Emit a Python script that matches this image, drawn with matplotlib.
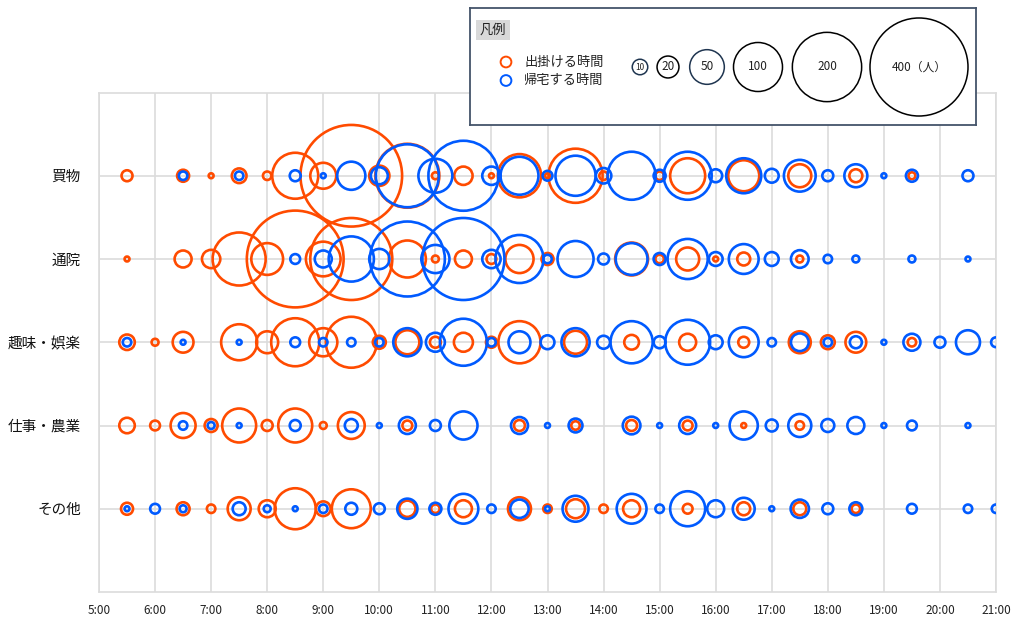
import matplotlib.pyplot as plt
import numpy as np

plt.rcParams['font.family'] = ['Noto Sans CJK JP', 'DejaVu Sans']

# time slots every 30 minutes
slots = ['5:30', '6:00', '6:30', '7:00', '7:30', '8:00', '8:30', '9:00',
         '9:30', '10:00', '10:30', '11:00', '11:30', '12:00', '12:30', '13:00',
         '13:30', '14:00', '14:30', '15:00', '15:30', '16:00', '16:30', '17:00',
         '17:30', '18:00', '18:30', '19:00', '19:30', '20:00', '20:30', '21:00']

categories = ['買物', '通院', '趣味・娯楽', '仕事・農業', 'その他']

# people leaving home (出掛ける時間), per slot
shopping_out = [5, 0, 6, 1, 9, 3, 88, 28, 430, 17, 170, 2, 14, 1, 78, 1,
                122, 3, 0, 3, 51, 0, 40, 0, 22, 0, 7, 0, 2, 0, 0, 0]
hospital_out = [1, 0, 12, 14, 117, 42, 390, 50, 280, 0, 57, 2, 12, 4, 33, 6,
                0, 0, 45, 3, 22, 1, 7, 0, 2, 0, 0, 0, 0, 0, 0, 0]
hobby_out = [10, 2, 18, 0, 54, 20, 96, 33, 108, 7, 24, 5, 15, 5, 74, 0,
             22, 0, 9, 0, 12, 0, 5, 0, 20, 8, 18, 0, 3, 0, 0, 0]
work_out = [10, 4, 26, 7, 48, 5, 48, 2, 30, 0, 4, 0, 0, 0, 5, 0,
            3, 0, 5, 0, 4, 0, 1, 0, 3, 0, 0, 0, 0, 0, 0, 0]
other_out = [6, 0, 7, 3, 22, 12, 70, 9, 63, 0, 11, 3, 12, 0, 22, 3,
             15, 3, 12, 0, 4, 0, 7, 0, 7, 0, 3, 0, 0, 0, 0, 0]

# people coming back home (帰宅する時間), per slot
shopping_back = [0, 0, 3, 0, 3, 0, 5, 1, 33, 12, 165, 48, 204, 14, 60, 4,
                 67, 10, 96, 6, 96, 7, 51, 8, 42, 5, 22, 1, 6, 0, 5, 0]
hospital_back = [0, 0, 0, 0, 0, 0, 4, 12, 85, 17, 234, 33, 280, 14, 96, 3,
                 54, 5, 42, 6, 67, 8, 37, 8, 13, 3, 2, 0, 2, 0, 1, 0]
hobby_back = [3, 0, 1, 0, 1, 0, 4, 3, 3, 3, 33, 15, 92, 3, 20, 8,
              33, 7, 74, 6, 84, 8, 37, 3, 13, 3, 6, 1, 12, 5, 24, 4]
work_back = [0, 0, 3, 2, 1, 0, 5, 0, 7, 1, 12, 5, 33, 0, 12, 1,
             8, 0, 13, 1, 12, 1, 33, 6, 22, 7, 12, 1, 4, 0, 1, 0]
other_back = [1, 4, 2, 0, 7, 2, 1, 3, 6, 5, 17, 6, 37, 3, 14, 1,
              28, 0, 37, 3, 51, 12, 20, 1, 14, 5, 7, 0, 4, 0, 3, 3]

out_rows = [shopping_out, hospital_out, hobby_out, work_out, other_out]
back_rows = [shopping_back, hospital_back, hobby_back, work_back, other_back]

legend_sizes = [10, 20, 50, 100, 200, 400]
legend_labels = ['10', '20', '50', '100', '200', '400（人）']

orange = '#FF4B00'
blue = '#005AFF'
gridColor = '#dcdcdc'


def bubble_area(count):
    # marker area in points^2, so the diameter grows with sqrt(count)
    return 12.45 * np.asarray(count, dtype=float)


def to_hours(label):
    h, m = label.split(':')
    return int(h) + int(m) / 60


hours = np.array([to_hours(s) for s in slots])

figureWidth = 10.14
figureHeight = 6.19
fig = plt.figure(figsize=(figureWidth, figureHeight), dpi=100)

# main panel, placed in pixel units of the 1014x619 canvas
ax = fig.add_axes([99 / 1014, 27 / 619, 897 / 1014, 499.5 / 619])
ax.set_xlim(5, 21)
ax.set_ylim(0, 6)

ypos = np.arange(len(categories), 0, -1)

for row, y in enumerate(ypos):
    vals = np.array(out_rows[row])
    keep = vals > 0
    ax.scatter(hours[keep], np.full(keep.sum(), y), s=bubble_area(vals[keep]),
               facecolors='none', edgecolors=orange, linewidths=1.9, zorder=3)
for row, y in enumerate(ypos):
    vals = np.array(back_rows[row])
    keep = vals > 0
    ax.scatter(hours[keep], np.full(keep.sum(), y), s=bubble_area(vals[keep]),
               facecolors='none', edgecolors=blue, linewidths=1.9, zorder=4)

ax.set_xticks(np.arange(5, 22))
ax.set_xticklabels(['%d:00' % h for h in range(5, 22)], fontsize=8.5, color='#222222')
ax.set_yticks(ypos)
ax.set_yticklabels(categories, fontsize=10.5, color='#111111')
ax.tick_params(axis='x', length=0, pad=9)
ax.tick_params(axis='y', length=0, pad=13)

ax.grid(True, color=gridColor, linewidth=1.2, zorder=0)
ax.set_axisbelow(True)
for side in ['left', 'right', 'top', 'bottom']:
    ax.spines[side].set_color(gridColor)
    ax.spines[side].set_linewidth(1.2)

# legend box drawn in its own panel, coordinates in pixels
lax = fig.add_axes([470 / 1014, 1 - 125 / 619, 506 / 1014, 117 / 619], zorder=10)
lax.set_xlim(0, 506)
lax.set_ylim(117, 0)
lax.set_xticks([])
lax.set_yticks([])
lax.set_facecolor('white')
for side in ['left', 'right', 'top', 'bottom']:
    lax.spines[side].set_color('#44546a')
    lax.spines[side].set_linewidth(1.3)

lax.text(23, 22, '凡例', fontsize=9.5, ha='center', va='center', color='#222222',
         bbox=dict(boxstyle='square,pad=0.25', facecolor='#d9d9d9', edgecolor='none'))

lax.scatter([36], [54], s=60, facecolors='none', edgecolors=orange, linewidths=1.4)
lax.scatter([36], [72.5], s=60, facecolors='none', edgecolors=blue, linewidths=1.4)
lax.text(54, 54, '出掛ける時間', fontsize=9.5, ha='left', va='center', color='#222222')
lax.text(54, 72.5, '帰宅する時間', fontsize=9.5, ha='left', va='center', color='#222222')

legend_x = [170, 198, 237, 288, 357, 449]
legend_edge = ['#1f3550', 'black', '#1f3550', 'black', 'black', 'black']
for i in range(len(legend_sizes)):
    lax.scatter([legend_x[i]], [59], s=bubble_area(legend_sizes[i]),
                facecolors='none', edgecolors=legend_edge[i], linewidths=1.1)
    fsize = 6 if legend_sizes[i] < 20 else 8.5
    lax.text(legend_x[i], 59, legend_labels[i], fontsize=fsize,
             ha='center', va='center', color='#222222')

plt.savefig('out.png', dpi=100)
